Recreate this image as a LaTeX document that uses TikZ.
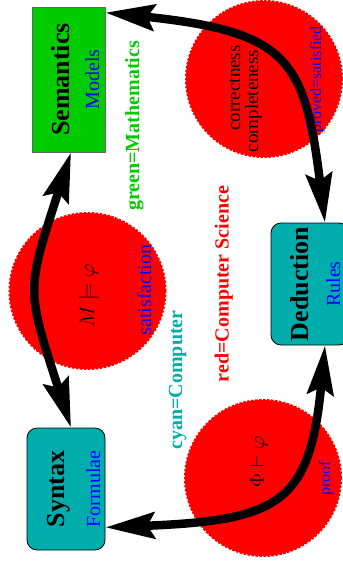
\documentclass[tikz,border=0pt]{standalone}
\usepackage[no-math]{fontspec}
\setmainfont{Liberation Serif}
\usetikzlibrary{arrows.meta}
\definecolor{mgreen}{RGB}{0,204,0}
\definecolor{mteal}{RGB}{0,173,173}
\newcommand\twolines[6]{\vbox{\offinterlineskip\halign{\hfil##\hfil\cr
\vrule width0pt height#3 depth#4\relax\smash{#1}\cr
\vrule width0pt height#5 depth#6\relax\smash{#2}\cr}}}
\newcommand\bigbf{\fontsize{26}{26}\selectfont\bfseries}
\newcommand\subtxt{\fontsize{20}{20}\selectfont\color{blue}}
\tikzset{
  rbox/.style={rotate=90, inner sep=0pt, minimum width=122pt, minimum height=78pt,
    draw=black, line width=0.8pt, fill=mteal, rounded corners=10pt},
  sbox/.style={rotate=90, inner sep=0pt, minimum width=145pt, minimum height=73pt,
    draw=black!60, line width=0.8pt, fill=mgreen},
  blob/.style={circle, minimum size=156pt, inner sep=0pt, fill=red, draw=red,
    line width=2pt, dash pattern=on 2.5pt off 1.5pt},
  arr/.style={line width=8.5pt, >={Stealth[length=49pt,width=26pt,inset=7pt]}, <->},
  lbl/.style={rotate=90, anchor=base, inner sep=0pt},
  tag/.style={lbl, font=\fontsize{20}{20}\selectfont\bfseries},
  edgetxt/.style={lbl, blue, font=\fontsize{16}{16}\selectfont},
  mathtxt/.style={lbl, font=\fontsize{20.74}{25}\selectfont},
}
\begin{document}
\begin{tikzpicture}[x=1pt,y=-1pt]
\useasboundingbox (0,0) rectangle (343,566);
% circles
\node[blob] (c1) at (264,79) {};
\node[blob] (c2) at (87.5,291) {};
\node[blob] (c3) at (263,478) {};
% boxes
\node[sbox] (sem) at (68.5,79.5)
  {\twolines{\bigbf Semantics}{\subtxt Models}{38pt}{10pt}{19pt}{6pt}};
\node[rbox] (syn) at (66,489)
  {\twolines{\bigbf Syntax}{\subtxt Formulae}{37pt}{12pt}{24pt}{5pt}};
\node[rbox] (ded) at (310,284)
  {\twolines{\bigbf Deduction}{\subtxt Rules}{37pt}{12pt}{20pt}{9pt}};
% texts
\node[lbl, font=\fontsize{19}{19}\selectfont] (cor) at (240,88) {correctness};
\node[lbl, font=\fontsize{19}{19}\selectfont] (com) at (258,101) {completeness};
\node[edgetxt] (ps) at (321,79.5) {proved=satisfied};
\node[edgetxt] (pf) at (330,478) {proof};
\node[lbl, blue, font=\fontsize{20}{20}\selectfont] (sat) at (151,290) {satisfaction};
\node[mathtxt] (mphi) at (94,296) {$M\models\varphi$};
\node[mathtxt] (pphi) at (264,461.5) {$\Phi\vdash\varphi$};
\node[tag, mgreen] (gm) at (139,126) {green=Mathematics};
\node[tag, red] (rcs) at (228.5,284) {red=Computer Science};
\node[tag, mteal] (cc) at (182,380) {cyan=Computer};
% arrows
\draw[arr] ([yshift=-6pt]sem.south east) .. controls +(184,19) and +(-20,-162) .. ([xshift=15pt]ded.east);
\draw[arr] ([xshift=2.5pt]sem.west) .. controls +(-45,140) and +(-45,-140) .. ([xshift=5pt]syn.east);
\draw[arr] ([yshift=23pt]syn.south west) .. controls +(175,-7) and +(-15,157) .. ([xshift=15pt]ded.west);
\end{tikzpicture}
\end{document}
